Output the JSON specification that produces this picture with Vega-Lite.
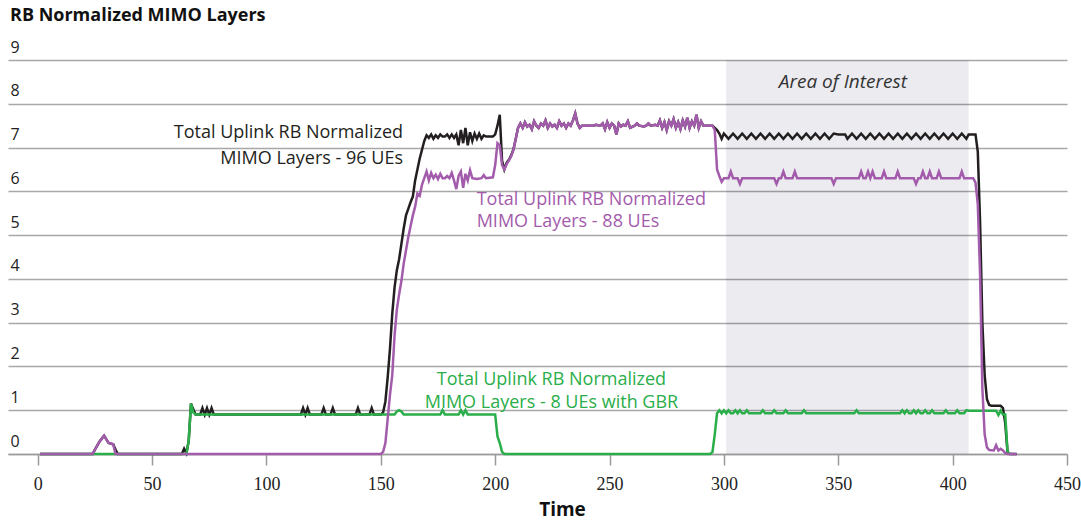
{
  "$schema": "https://vega.github.io/schema/vega-lite/v6.json",
  "width": 1059,
  "height": 394,
  "autosize": {"type": "none"},
  "padding": {"left": 8, "top": 60, "right": 14, "bottom": 68},
  "background": "white",
  "title": {"text": "RB Normalized MIMO Layers", "anchor": "start", "frame": "group", "font": "Open Sans", "fontSize": 18, "fontWeight": "bold", "color": "#111111", "dx": 2, "offset": 14},
  "datasets": {
    "black": [
      {"t":1,"v":0},{"t":24,"v":0},{"t":25,"v":0.1},{"t":27,"v":0.28},{"t":29,"v":0.42},{"t":31,"v":0.25},{"t":33,"v":0.22},{"t":34,"v":0.1},{"t":35,"v":0},{"t":63,"v":0},{"t":64,"v":0.12},{"t":65,"v":0.02},{"t":66,"v":0.3},{"t":67,"v":1.15},{"t":68,"v":1.02},{"t":69,"v":0.9},{"t":71,"v":0.9},{"t":72,"v":1.05},{"t":73,"v":0.9},{"t":74,"v":1.05},{"t":75,"v":0.9},{"t":76,"v":1.05},{"t":77,"v":0.9},{"t":115,"v":0.9},{"t":116,"v":1.05},{"t":117,"v":0.9},{"t":118,"v":1.05},{"t":119,"v":0.9},{"t":124,"v":0.9},{"t":125,"v":1.05},{"t":126,"v":0.9},{"t":128,"v":0.9},{"t":129,"v":1.05},{"t":130,"v":0.9},{"t":139,"v":0.9},{"t":140,"v":1.05},{"t":141,"v":0.9},{"t":145,"v":0.9},{"t":146,"v":1.05},{"t":147,"v":0.9},{"t":150,"v":0.9},{"t":151,"v":0.95},{"t":152,"v":1.2},{"t":153,"v":1.75},{"t":154,"v":2.4},{"t":155,"v":3.2},{"t":156,"v":3.8},{"t":157,"v":4.2},{"t":158,"v":4.45},{"t":159,"v":4.8},{"t":160,"v":5.15},{"t":161,"v":5.45},{"t":162,"v":5.6},{"t":163,"v":5.75},{"t":164,"v":5.88},{"t":165,"v":6.25},{"t":166,"v":6.5},{"t":167,"v":6.75},{"t":168,"v":6.95},{"t":169,"v":7.15},{"t":170,"v":7.28},{"t":171,"v":7.22},{"t":172,"v":7.3},{"t":173,"v":7.2},{"t":174,"v":7.28},{"t":175,"v":7.22},{"t":176,"v":7.3},{"t":177,"v":7.25},{"t":178,"v":7.25},{"t":179,"v":7.3},{"t":180,"v":7.22},{"t":181,"v":7.3},{"t":182,"v":7.22},{"t":183,"v":7.3},{"t":184,"v":7.05},{"t":185,"v":7.4},{"t":186,"v":7.1},{"t":187,"v":7.45},{"t":188,"v":7.05},{"t":189,"v":7.35},{"t":190,"v":7.15},{"t":191,"v":7.32},{"t":192,"v":7.2},{"t":193,"v":7.32},{"t":194,"v":7.2},{"t":195,"v":7.28},{"t":196,"v":7.25},{"t":199,"v":7.25},{"t":200,"v":7.3},{"t":201,"v":7.5},{"t":202,"v":7.75},{"t":203,"v":6.7},{"t":204,"v":6.5},{"t":205,"v":6.65},{"t":206,"v":6.72},{"t":207,"v":6.82},{"t":208,"v":6.96},{"t":209,"v":7.2},{"t":210,"v":7.45},
      {"t":211,"v":7.55},{"t":212,"v":7.45},{"t":213,"v":7.58},{"t":214,"v":7.48},{"t":215,"v":7.52},{"t":216,"v":7.42},{"t":217,"v":7.6},{"t":218,"v":7.5},{"t":219,"v":7.45},{"t":220,"v":7.55},{"t":221,"v":7.5},{"t":222,"v":7.62},{"t":223,"v":7.45},{"t":224,"v":7.55},{"t":225,"v":7.48},{"t":226,"v":7.52},{"t":227,"v":7.45},{"t":228,"v":7.6},{"t":229,"v":7.5},{"t":230,"v":7.55},{"t":231,"v":7.45},{"t":232,"v":7.55},{"t":233,"v":7.5},{"t":234,"v":7.62},{"t":235,"v":7.78},{"t":236,"v":7.55},{"t":237,"v":7.45},{"t":238,"v":7.5},{"t":243,"v":7.5},{"t":244,"v":7.52},{"t":246,"v":7.5},{"t":247,"v":7.55},{"t":248,"v":7.42},{"t":249,"v":7.58},{"t":250,"v":7.45},{"t":251,"v":7.55},{"t":252,"v":7.5},{"t":253,"v":7.3},{"t":254,"v":7.55},{"t":255,"v":7.48},{"t":256,"v":7.52},{"t":257,"v":7.5},{"t":258,"v":7.6},{"t":259,"v":7.45},{"t":261,"v":7.5},{"t":262,"v":7.55},{"t":263,"v":7.5},{"t":265,"v":7.48},{"t":266,"v":7.5},{"t":267,"v":7.55},{"t":268,"v":7.5},{"t":270,"v":7.52},{"t":271,"v":7.5},{"t":272,"v":7.62},{"t":273,"v":7.45},{"t":274,"v":7.58},{"t":275,"v":7.4},{"t":276,"v":7.6},{"t":277,"v":7.5},{"t":278,"v":7.65},{"t":279,"v":7.45},{"t":280,"v":7.58},{"t":281,"v":7.42},{"t":282,"v":7.62},{"t":283,"v":7.48},{"t":284,"v":7.68},{"t":285,"v":7.45},{"t":286,"v":7.6},{"t":287,"v":7.5},{"t":288,"v":7.75},{"t":289,"v":7.45},{"t":290,"v":7.6},{"t":291,"v":7.5},{"t":295,"v":7.5},
      {"t":296,"v":7.45},{"t":297,"v":7.4},{"t":298,"v":7.32},{"t":299,"v":7.2},{"t":300,"v":7.32},{"t":302,"v":7.2},{"t":304,"v":7.32},{"t":306,"v":7.2},{"t":308,"v":7.32},{"t":310,"v":7.2},{"t":312,"v":7.32},{"t":314,"v":7.2},{"t":316,"v":7.32},{"t":318,"v":7.2},{"t":320,"v":7.32},{"t":322,"v":7.2},{"t":324,"v":7.32},{"t":326,"v":7.2},{"t":328,"v":7.32},{"t":330,"v":7.2},{"t":332,"v":7.32},{"t":334,"v":7.2},{"t":336,"v":7.32},{"t":338,"v":7.2},{"t":340,"v":7.32},{"t":342,"v":7.2},{"t":344,"v":7.32},{"t":346,"v":7.2},{"t":348,"v":7.32},{"t":350,"v":7.3},{"t":353,"v":7.3},{"t":354,"v":7.2},{"t":356,"v":7.32},{"t":358,"v":7.2},{"t":360,"v":7.32},{"t":362,"v":7.2},{"t":364,"v":7.32},{"t":366,"v":7.2},{"t":368,"v":7.32},{"t":370,"v":7.2},{"t":372,"v":7.32},{"t":374,"v":7.2},{"t":376,"v":7.32},{"t":378,"v":7.2},{"t":380,"v":7.32},{"t":382,"v":7.2},{"t":384,"v":7.32},{"t":386,"v":7.2},{"t":388,"v":7.32},{"t":390,"v":7.2},{"t":392,"v":7.32},{"t":394,"v":7.2},{"t":396,"v":7.32},{"t":398,"v":7.2},{"t":400,"v":7.32},{"t":402,"v":7.2},{"t":404,"v":7.32},{"t":406,"v":7.2},{"t":407,"v":7.3},{"t":410,"v":7.3},{"t":411,"v":6.9},{"t":412,"v":5.3},{"t":413,"v":3.0},{"t":414,"v":1.8},{"t":415,"v":1.25},{"t":416,"v":1.12},{"t":417,"v":1.1},{"t":421,"v":1.1},{"t":422,"v":1.05},{"t":423,"v":0.7},{"t":424,"v":0.05},{"t":425,"v":0},{"t":428,"v":0}
    ],
    "purple": [
      {"t":1,"v":0},{"t":24,"v":0},{"t":25,"v":0.1},{"t":27,"v":0.28},{"t":29,"v":0.42},{"t":31,"v":0.25},{"t":33,"v":0.22},{"t":34,"v":0},{"t":150,"v":0},{"t":151,"v":0.05},{"t":152,"v":0.25},{"t":153,"v":0.8},{"t":154,"v":1.35},{"t":155,"v":1.8},{"t":156,"v":2.7},{"t":157,"v":3.3},{"t":158,"v":3.65},{"t":159,"v":3.95},{"t":160,"v":4.35},{"t":161,"v":4.65},{"t":162,"v":4.95},{"t":163,"v":5.2},{"t":164,"v":5.45},{"t":165,"v":5.65},{"t":166,"v":5.95},{"t":167,"v":5.9},{"t":168,"v":6.15},{"t":169,"v":6.3},{"t":170,"v":6.45},{"t":171,"v":6.25},{"t":172,"v":6.42},{"t":173,"v":6.3},{"t":174,"v":6.38},{"t":175,"v":6.28},{"t":176,"v":6.4},{"t":177,"v":6.3},{"t":178,"v":6.3},{"t":179,"v":6.35},{"t":180,"v":6.3},{"t":181,"v":6.42},{"t":182,"v":6.25},{"t":183,"v":6.05},{"t":184,"v":6.35},{"t":185,"v":6.45},{"t":186,"v":6.08},{"t":187,"v":6.4},{"t":188,"v":6.25},{"t":189,"v":6.48},{"t":190,"v":6.3},{"t":192,"v":6.28},{"t":194,"v":6.3},{"t":195,"v":6.37},{"t":196,"v":6.3},{"t":199,"v":6.32},{"t":200,"v":6.6},{"t":201,"v":7.1},{"t":202,"v":7.05},{"t":203,"v":6.6},{"t":204,"v":6.5},{"t":205,"v":6.62},{"t":206,"v":6.7},{"t":207,"v":6.8},{"t":208,"v":6.95},{"t":209,"v":7.2},{"t":210,"v":7.45},
      {"t":211,"v":7.55},{"t":212,"v":7.45},{"t":213,"v":7.58},{"t":214,"v":7.48},{"t":215,"v":7.52},{"t":216,"v":7.42},{"t":217,"v":7.6},{"t":218,"v":7.5},{"t":219,"v":7.45},{"t":220,"v":7.55},{"t":221,"v":7.5},{"t":222,"v":7.62},{"t":223,"v":7.45},{"t":224,"v":7.55},{"t":225,"v":7.48},{"t":226,"v":7.52},{"t":227,"v":7.45},{"t":228,"v":7.6},{"t":229,"v":7.5},{"t":230,"v":7.55},{"t":231,"v":7.45},{"t":232,"v":7.55},{"t":233,"v":7.5},{"t":234,"v":7.62},{"t":235,"v":7.78},{"t":236,"v":7.55},{"t":237,"v":7.45},{"t":238,"v":7.5},{"t":243,"v":7.5},{"t":244,"v":7.52},{"t":246,"v":7.5},{"t":247,"v":7.55},{"t":248,"v":7.42},{"t":249,"v":7.58},{"t":250,"v":7.45},{"t":251,"v":7.55},{"t":252,"v":7.5},{"t":253,"v":7.3},{"t":254,"v":7.55},{"t":255,"v":7.48},{"t":256,"v":7.52},{"t":257,"v":7.5},{"t":258,"v":7.6},{"t":259,"v":7.45},{"t":261,"v":7.5},{"t":262,"v":7.55},{"t":263,"v":7.5},{"t":265,"v":7.48},{"t":266,"v":7.5},{"t":267,"v":7.55},{"t":268,"v":7.5},{"t":270,"v":7.52},{"t":271,"v":7.5},{"t":272,"v":7.62},{"t":273,"v":7.45},{"t":274,"v":7.58},{"t":275,"v":7.4},{"t":276,"v":7.6},{"t":277,"v":7.5},{"t":278,"v":7.65},{"t":279,"v":7.45},{"t":280,"v":7.58},{"t":281,"v":7.42},{"t":282,"v":7.62},{"t":283,"v":7.48},{"t":284,"v":7.68},{"t":285,"v":7.45},{"t":286,"v":7.6},{"t":287,"v":7.5},{"t":288,"v":7.75},{"t":289,"v":7.45},{"t":290,"v":7.6},{"t":291,"v":7.5},{"t":295,"v":7.5},
      {"t":296,"v":7.4},{"t":297,"v":6.5},{"t":298,"v":6.35},{"t":299,"v":6.22},{"t":300,"v":6.3},{"t":302,"v":6.3},{"t":303,"v":6.45},{"t":304,"v":6.3},{"t":306,"v":6.3},{"t":307,"v":6.17},{"t":308,"v":6.3},{"t":322,"v":6.3},{"t":323,"v":6.17},{"t":324,"v":6.3},{"t":325,"v":6.3},{"t":326,"v":6.45},{"t":327,"v":6.3},{"t":330,"v":6.3},{"t":331,"v":6.45},{"t":332,"v":6.3},{"t":347,"v":6.3},{"t":348,"v":6.17},{"t":349,"v":6.3},{"t":359,"v":6.3},{"t":360,"v":6.45},{"t":361,"v":6.3},{"t":362,"v":6.3},{"t":363,"v":6.45},{"t":364,"v":6.3},{"t":365,"v":6.45},{"t":366,"v":6.3},{"t":369,"v":6.3},{"t":370,"v":6.45},{"t":371,"v":6.3},{"t":375,"v":6.3},{"t":376,"v":6.45},{"t":377,"v":6.3},{"t":383,"v":6.3},{"t":384,"v":6.17},{"t":385,"v":6.3},{"t":386,"v":6.3},{"t":387,"v":6.45},{"t":388,"v":6.3},{"t":389,"v":6.3},{"t":390,"v":6.45},{"t":391,"v":6.3},{"t":393,"v":6.3},{"t":394,"v":6.45},{"t":395,"v":6.3},{"t":403,"v":6.3},{"t":404,"v":6.45},{"t":405,"v":6.3},{"t":409,"v":6.3},{"t":410,"v":6.2},{"t":411,"v":5.7},{"t":412,"v":4.1},{"t":413,"v":1.5},{"t":414,"v":0.45},{"t":415,"v":0.15},{"t":416,"v":0.09},{"t":418,"v":0.08},{"t":419,"v":0.2},{"t":420,"v":0.08},{"t":421,"v":0.12},{"t":422,"v":0.08},{"t":423,"v":0.02},{"t":424,"v":0},{"t":428,"v":0}
    ],
    "green": [
      {"t":1,"v":0},{"t":65,"v":0},{"t":66,"v":0.3},{"t":67,"v":1.15},{"t":68,"v":0.95},{"t":69,"v":0.9},{"t":156,"v":0.9},{"t":157,"v":0.97},{"t":158,"v":1.0},{"t":159,"v":0.97},{"t":160,"v":0.9},{"t":176,"v":0.9},{"t":177,"v":1.0},{"t":178,"v":0.9},{"t":184,"v":0.9},{"t":185,"v":1.0},{"t":186,"v":0.9},{"t":187,"v":1.0},{"t":188,"v":0.9},{"t":200,"v":0.9},{"t":201,"v":0.4},{"t":202,"v":0.25},{"t":203,"v":0.05},{"t":204,"v":0},{"t":294,"v":0},{"t":295,"v":0.05},{"t":296,"v":0.45},{"t":297,"v":0.93},{"t":298,"v":1.0},{"t":299,"v":0.93},{"t":300,"v":1.0},{"t":301,"v":0.93},{"t":302,"v":1.0},{"t":303,"v":0.93},{"t":304,"v":0.93},{"t":305,"v":1.0},{"t":306,"v":0.93},{"t":307,"v":1.0},{"t":308,"v":0.93},{"t":309,"v":0.93},{"t":310,"v":1.0},{"t":311,"v":0.93},{"t":316,"v":0.93},{"t":317,"v":1.0},{"t":318,"v":0.93},{"t":321,"v":0.93},{"t":322,"v":1.0},{"t":323,"v":0.93},{"t":326,"v":0.93},{"t":327,"v":1.0},{"t":328,"v":0.93},{"t":334,"v":0.93},{"t":335,"v":1.0},{"t":336,"v":0.93},{"t":357,"v":0.93},{"t":358,"v":1.0},{"t":359,"v":0.93},{"t":377,"v":0.93},{"t":378,"v":1.0},{"t":379,"v":0.93},{"t":380,"v":1.0},{"t":381,"v":0.93},{"t":382,"v":0.93},{"t":383,"v":1.0},{"t":384,"v":0.93},{"t":385,"v":1.0},{"t":386,"v":0.93},{"t":387,"v":0.93},{"t":388,"v":1.0},{"t":389,"v":0.93},{"t":390,"v":0.93},{"t":391,"v":1.0},{"t":392,"v":0.93},{"t":396,"v":0.93},{"t":397,"v":1.0},{"t":398,"v":0.93},{"t":401,"v":0.93},{"t":402,"v":1.0},{"t":403,"v":0.93},{"t":405,"v":0.93},{"t":406,"v":1.0},{"t":407,"v":0.99},{"t":419,"v":0.99},{"t":420,"v":0.89},{"t":421,"v":0.99},{"t":422,"v":0.9},{"t":423,"v":0.9},{"t":424,"v":0.05},{"t":425,"v":0}
    ]
  },
  "encoding": {
    "x": {"field": "t", "type": "quantitative", "scale": {"domain": [-13, 450], "nice": false, "zero": false},
      "axis": {"values": [0,50,100,150,200,250,300,350,400,450], "grid": false, "domainColor": "#9a9a9a", "domainWidth": 1.5, "tickColor": "#9a9a9a", "tickWidth": 1.5, "tickSize": 11, "labelFont": "Liberation Sans Narrow", "labelFontSize": 18, "labelColor": "#222222", "labelBaseline": "alphabetic", "labelPadding": 24, "labelFlush": false, "labelOverlap": false, "title": "Time", "titleFont": "Open Sans", "titleFontSize": 19, "titleFontWeight": "bold", "titleColor": "#111111", "titleX": 554, "titleY": 61, "titleBaseline": "alphabetic", "titleAlign": "center"}},
    "y": {"field": "v", "type": "quantitative", "scale": {"domain": [0, 9], "nice": false, "zero": false},
      "axis": {"values": [0,1,2,3,4,5,6,7,8,9], "grid": true, "gridColor": "#a8a8a8", "gridWidth": 1.5, "domain": false, "ticks": false, "labelAlign": "left", "labelBaseline": "alphabetic", "labelOffset": -8, "labelPadding": -2, "labelFont": "Open Sans", "labelFontSize": 16, "labelColor": "#222222", "title": null}}
  },
  "layer": [
    {
      "data": {"values": [{"t": 301, "t2": 407, "v": 0, "v2": 9}]},
      "mark": {"type": "rect", "fill": "#10103a", "opacity": 0.08},
      "encoding": {"x2": {"field": "t2"}, "y2": {"field": "v2"}}
    },
    {
      "data": {"values": [{"t": 352, "v": 8.49, "label": "Area of Interest"}]},
      "mark": {"type": "text", "font": "Open Sans", "fontSize": 19, "fontStyle": "italic", "color": "#333333", "align": "center", "baseline": "middle"},
      "encoding": {"text": {"field": "label"}}
    },
    {
      "data": {"name": "black"},
      "mark": {"type": "line", "color": "#231f20", "strokeWidth": 2.5},
      "encoding": {}
    },
    {
      "data": {"name": "green"},
      "mark": {"type": "line", "color": "#2aae4a", "strokeWidth": 2.5},
      "encoding": {}
    },
    {
      "data": {"name": "purple"},
      "mark": {"type": "line", "color": "#a35cab", "strokeWidth": 2.5},
      "encoding": {}
    },
    {
      "data": {"values": [{"t": 159.7, "v": 7.33, "label": "Total Uplink RB Normalized"}, {"t": 159.7, "v": 6.75, "label": "MIMO Layers - 96 UEs"}]},
      "mark": {"type": "text", "font": "Open Sans", "fontSize": 18, "color": "#231f20", "align": "right", "baseline": "middle"},
      "encoding": {"text": {"field": "label"}}
    },
    {
      "data": {"values": [{"t": 191.9, "v": 5.8, "label": "Total Uplink RB Normalized"}, {"t": 191.9, "v": 5.3, "label": "MIMO Layers - 88 UEs"}]},
      "mark": {"type": "text", "font": "Open Sans", "fontSize": 18, "color": "#a35cab", "align": "left", "baseline": "middle"},
      "encoding": {"text": {"field": "label"}}
    },
    {
      "data": {"values": [{"t": 224.6, "v": 1.69, "label": "Total Uplink RB Normalized"}, {"t": 224.6, "v": 1.16, "label": "MIMO Layers - 8 UEs with GBR"}]},
      "mark": {"type": "text", "font": "Open Sans", "fontSize": 18, "color": "#2aae4a", "align": "center", "baseline": "middle"},
      "encoding": {"text": {"field": "label"}}
    }
  ],
  "config": {"view": {"stroke": null}}
}
